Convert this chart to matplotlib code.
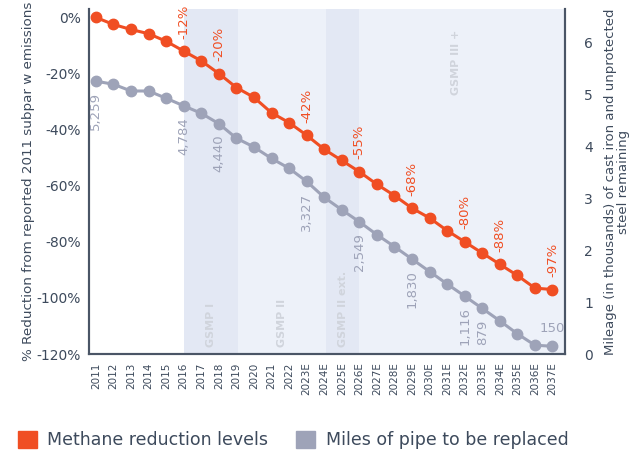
import matplotlib
matplotlib.use("Agg")
import matplotlib.pyplot as plt
from matplotlib.patches import Patch
from matplotlib.transforms import blended_transform_factory

plt.rcParams['font.family'] = ['DejaVu Sans']

years = ["2011", "2012", "2013", "2014", "2015", "2016", "2017", "2018", "2019",
         "2020", "2021", "2022", "2023E", "2024E", "2025E", "2026E", "2027E",
         "2028E", "2029E", "2030E", "2031E", "2032E", "2033E", "2034E",
         "2035E", "2036E", "2037E"]

# methane reduction (% vs 2011)
methane = [0, -2.5, -4.3, -5.8, -8.5, -12, -15.5, -20, -25, -28.5, -34, -37.5,
           -42, -47, -51, -55, -59.5, -63.5, -68, -71.5, -76, -80, -84, -88,
           -92, -96.5, -97]

# miles of pipe remaining (thousands)
miles = [5.259, 5.20, 5.07, 5.07, 4.93, 4.784, 4.64, 4.440, 4.16, 3.99, 3.77,
         3.58, 3.327, 3.02, 2.78, 2.549, 2.30, 2.07, 1.830, 1.59, 1.35, 1.116,
         0.879, 0.64, 0.39, 0.17, 0.150]

methane_labels = {"2016": "-12%", "2018": "-20%", "2023E": "-42%", "2026E": "-55%",
                  "2029E": "-68%", "2032E": "-80%", "2034E": "-88%", "2037E": "-97%"}
miles_labels = {"2011": "5,259", "2016": "4,784", "2018": "4,440", "2023E": "3,327",
                "2026E": "2,549", "2029E": "1,830", "2032E": "1,116", "2033E": "879"}

phases = [("GSMP I", 5, 8.1, "#e3e8f4"), ("GSMP II", 8.1, 13.1, "#edf1f9"),
          ("GSMP II ext.", 13.1, 15, "#e3e8f4"), ("GSMP III +", 15, 26.7, "#edf1f9")]

orange = "#f04e23"
gray = "#9ea3b8"
dark = "#4a5566"
txt = "#3d4a5c"

fig = plt.figure(figsize=(6.44, 4.51), dpi=100)
ax = fig.add_axes([0.138, 0.215, 0.739, 0.765])
ax2 = ax.twinx()

x = list(range(len(years)))

for name, a, b, c in phases:
    ax.axvspan(a, b, color=c, lw=0, zorder=0)
tr = blended_transform_factory(ax.transData, ax.transAxes)
for name, a, b, c in phases[:3]:
    ax.text((a + b) / 2, 0.02, name, transform=tr, rotation=90, ha='center', va='bottom',
            color="#d0d4dc", fontsize=8, fontweight='bold')
ax.text(20.5, 0.94, "GSMP III +", transform=tr, rotation=90, ha='center', va='top',
        color="#d0d4dc", fontsize=8, fontweight='bold')

ax.plot(x, methane, color=orange, lw=2.2, marker='o', ms=7.5, zorder=5)
ax2.plot(x, miles, color=gray, lw=2.2, marker='o', ms=7.5, zorder=5)

for i, y in enumerate(years):
    if y in methane_labels:
        ax.annotate(methane_labels[y], (i, methane[i]), xytext=(0, 9), textcoords='offset points',
                    rotation=90, ha='center', va='bottom', color=orange, fontsize=9.5)
    if y in miles_labels:
        ax2.annotate(miles_labels[y], (i, miles[i]), xytext=(0, -8), textcoords='offset points',
                     rotation=90, ha='center', va='top', color=gray, fontsize=9.5)
ax2.annotate("150", (26, miles[26]), xytext=(0, 8), textcoords='offset points',
             ha='center', va='bottom', color=gray, fontsize=9.5)

ax.set_xlim(-0.4, 26.7)
ax.set_ylim(-120, 3)
ax2.set_ylim(0, 6.65)
ax.set_xticks(x)
ax.set_xticklabels(years, rotation=90, fontsize=7.5, color=txt)
ax.set_yticks([0, -20, -40, -60, -80, -100, -120])
ax.set_yticklabels(["0%", "-20%", "-40%", "-60%", "-80%", "-100%", "-120%"], fontsize=10, color=txt)
ax2.set_yticks(range(7))
ax2.set_yticklabels([str(v) for v in range(7)], fontsize=10, color=txt)
ax.tick_params(length=0, pad=6)
ax2.tick_params(length=0, pad=14)

for a in (ax, ax2):
    a.spines['top'].set_visible(False)
    for s in ('left', 'right', 'bottom'):
        a.spines[s].set_color(dark)
        a.spines[s].set_linewidth(1.5)

ax.set_ylabel("% Reduction from reported 2011 subpar w emissions", fontsize=9.7, color=txt, labelpad=1)
ax2.set_ylabel("Mileage (in thousands) of cast iron and unprotected\nsteel remaining",
               fontsize=9.5, color=txt, labelpad=8, linespacing=0.95)

handles = [Patch(color=orange, label="Methane reduction levels"),
           Patch(color=gray, label="Miles of pipe to be replaced")]
fig.legend(handles=handles, loc='center', bbox_to_anchor=(0.455, 0.024), ncol=2, frameon=False,
           fontsize=12.5, handlelength=1.1, handleheight=1.1, handletextpad=0.6, columnspacing=1.6,
           labelcolor=txt)

fig.savefig("out.png", dpi=100)
